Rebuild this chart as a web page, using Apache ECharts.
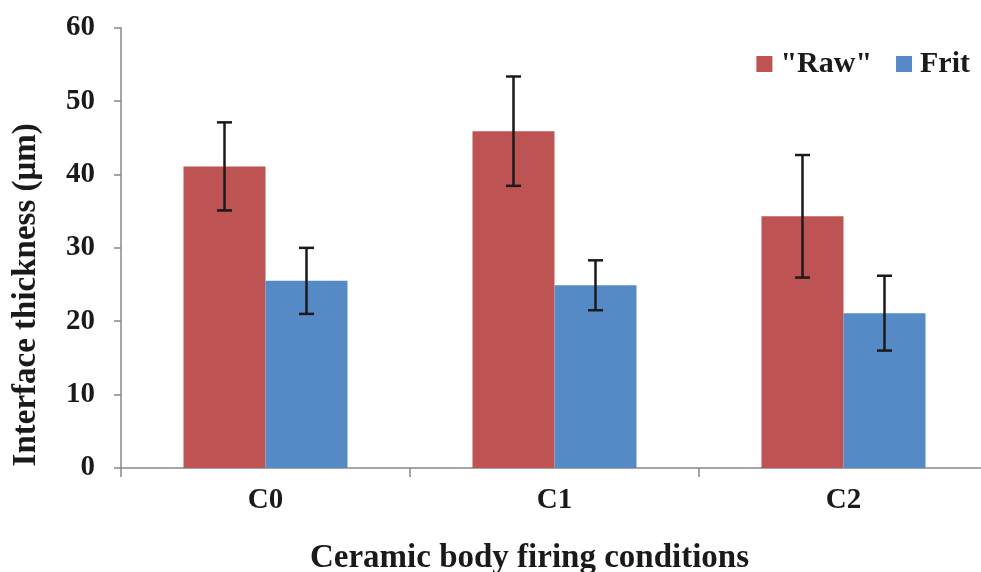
<!DOCTYPE html>
<html>
<head>
<meta charset="utf-8">
<script src="https://cdn.jsdelivr.net/npm/echarts@6/dist/echarts.min.js"></script>
<style>
html,body{margin:0;padding:0;background:#fff;}
#chart{width:981px;height:572px;}
</style>
</head>
<body>
<div id="chart"></div>
<script>
var categories = ['C0', 'C1', 'C2'];
var rawValues = [41.1, 45.9, 34.3];
var rawErrors = [6.0, 7.45, 8.35];
var fritValues = [25.5, 24.9, 21.1];
var fritErrors = [4.5, 3.4, 5.1];
var seriesNames = ['"Raw"', 'Frit'];
var yTicks = [0, 10, 20, 30, 40, 50, 60];

var chart = echarts.init(document.getElementById('chart'));
var FONT = '"Liberation Serif", "Times New Roman", serif';

function errorSeries(name, values, errors, seriesIndexOffset) {
  var data = values.map(function (v, i) { return [i, v - errors[i], v + errors[i]]; });
  return {
    type: 'custom',
    name: name + ' error',
    data: data,
    z: 10,
    silent: true,
    renderItem: function (params, api) {
      var idx = api.value(0);
      var lowPt = api.coord([idx, api.value(1)]);
      var highPt = api.coord([idx, api.value(2)]);
      var barW = 82;
      var x = lowPt[0] + (seriesIndexOffset === 0 ? -barW / 2 : barW / 2);
      var hw = 7.5;
      var style = { stroke: '#1a1a1a', lineWidth: 2.5 };
      return {
        type: 'group',
        children: [
          { type: 'line', shape: { x1: x, y1: highPt[1], x2: x, y2: lowPt[1] }, style: style },
          { type: 'line', shape: { x1: x - hw, y1: highPt[1], x2: x + hw, y2: highPt[1] }, style: style },
          { type: 'line', shape: { x1: x - hw, y1: lowPt[1], x2: x + hw, y2: lowPt[1] }, style: style }
        ]
      };
    }
  };
}

var option = {
  backgroundColor: '#ffffff',
  animation: false,
  textStyle: { fontFamily: FONT },
  grid: { left: 121, right: -7, top: 27.7, bottom: 104, containLabel: false, outerBoundsMode: 'none' },
  legend: {
    data: seriesNames,
    right: 6,
    top: 44,
    itemWidth: 16,
    itemHeight: 16,
    itemGap: 24,
    icon: 'rect',
    textStyle: { fontFamily: FONT, fontWeight: 'bold', fontSize: 30, color: '#1a1a1a', padding: [0, 0, 0, 3] }
  },
  xAxis: {
    type: 'category',
    data: categories,
    name: 'Ceramic body firing conditions',
    nameLocation: 'middle',
    nameGap: 74,
    nameTextStyle: { fontFamily: FONT, fontWeight: 'bold', fontSize: 33, color: '#1a1a1a', padding: [0, 50, 0, 0] },
    axisLine: { lineStyle: { color: '#888888', width: 1.5 } },
    axisTick: { show: true, length: 9, lineStyle: { color: '#888888', width: 1.5 } },
    axisLabel: { margin: 18, fontFamily: FONT, fontWeight: 'bold', fontSize: 29, color: '#1a1a1a' }
  },
  yAxis: {
    type: 'value',
    min: 0,
    max: 60,
    interval: 10,
    name: 'Interface thickness (μm)',
    nameLocation: 'middle',
    nameGap: 78,
    nameTextStyle: { fontFamily: FONT, fontWeight: 'bold', fontSize: 33, color: '#1a1a1a', padding: [0, 94, 0, 0] },
    axisLine: { show: true, lineStyle: { color: '#888888', width: 1.5 } },
    axisTick: { show: true, length: 7, lineStyle: { color: '#888888', width: 1.5 } },
    splitLine: { show: false },
    axisLabel: {
      margin: 26, fontFamily: FONT, fontWeight: 'bold', fontSize: 29, color: '#1a1a1a',
      formatter: function (v) { return yTicks.indexOf(v) >= 0 ? String(v) : ''; }
    }
  },
  series: [
    {
      name: seriesNames[0], type: 'bar', data: rawValues, barWidth: 82, barGap: '0%',
      itemStyle: { color: '#BD5352' }
    },
    {
      name: seriesNames[1], type: 'bar', data: fritValues, barWidth: 82, barGap: '0%',
      itemStyle: { color: '#558AC6' }
    },
    errorSeries(seriesNames[0], rawValues, rawErrors, 0),
    errorSeries(seriesNames[1], fritValues, fritErrors, 1)
  ]
};
chart.setOption(option);
</script>
</body>
</html>
